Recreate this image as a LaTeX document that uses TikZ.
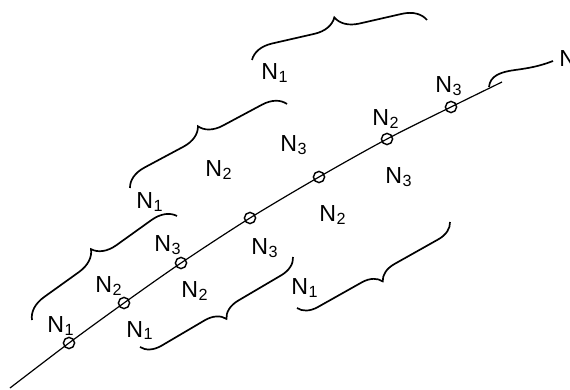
\documentclass[tikz,border=0pt]{standalone}
\usepackage{fontspec}
\setmainfont{Liberation Sans}
\usetikzlibrary{decorations.pathreplacing}
\newcommand\nsub[1]{N\kern0.5pt\raisebox{-0.2ex}{\fontsize{11.5}{13}\selectfont#1}}

\begin{document}
\begin{tikzpicture}[
    x=0.25mm, y=-0.25mm,
    font=\fontsize{16.5}{19}\selectfont,
    ring/.style={circle, draw, line width=1pt, inner sep=0pt,
                 minimum size=2.8mm},
    wire/.style={line width=0.85pt},
    curly/.style={decorate, line width=1.2pt,
                  decoration={brace, amplitude=#1}},
    lead/.style={line width=1.2pt},
    lab/.style={inner sep=0pt, anchor=base west},
  ]
  \useasboundingbox (0,0) rectangle (570,390);
  \coordinate (start) at (10,388);
  \coordinate (stop) at (502,82);
  \node[ring] (r1) at (69,343) {};
  \node[ring] (r2) at (124,303) {};
  \node[ring] (r3) at (181,263) {};
  \node[ring] (r4) at (250,218) {};
  \node[ring] (r5) at (319,177) {};
  \node[ring] (r6) at (387,139) {};
  \node[ring] (r7) at (451,107) {};
  \draw[wire] plot[smooth, tension=0.5] coordinates {(start) (r1.center) (r2.center)
    (r3.center) (r4.center) (r5.center) (r6.center) (r7.center) (stop)};
  \coordinate (b1a) at (252,60);  \coordinate (b1b) at (427,20);
  \coordinate (b2a) at (130,188); \coordinate (b2b) at (287,104);
  \coordinate (b3a) at (32,320);  \coordinate (b3b) at (177,216);
  \coordinate (b4a) at (140,347); \coordinate (b4b) at (293,257);
  \coordinate (b5a) at (297,308); \coordinate (b5b) at (450,222);
  \draw[curly=5.8mm] (b1a) -- (b1b);
  \draw[curly=5.6mm] (b2a) -- (b2b);
  \draw[curly=5.8mm] (b3a) -- (b3b);
  \draw[curly=4.9mm] (b4b) -- (b4a);
  \draw[curly=4.7mm] (b5b) -- (b5a);
  \coordinate (tip) at (489,87);
  \coordinate (tail) at (553,61);
  \draw[lead] (tip) .. controls (490,76) and (500,72) .. (515,70)
    .. controls (530,68) and (540,66) .. (tail);
  \node[lab] (t1) at (261,80) {\nsub{1}};
  \node[lab] (t2) at (205,177) {\nsub{2}};
  \node[lab] (t3) at (280,152) {\nsub{3}};
  \node[lab] (t4) at (136,209) {\nsub{1}};
  \node[lab] (t5) at (372,126) {\nsub{2}};
  \node[lab] (t6) at (435,93) {\nsub{3}};
  \node[lab] (t7) at (385,184) {\nsub{3}};
  \node[lab] (t8) at (319,222) {\nsub{2}};
  \node[lab] (t9) at (251,255) {\nsub{3}};
  \node[lab] (t10) at (154,252) {\nsub{3}};
  \node[lab] (t11) at (95,293) {\nsub{2}};
  \node[lab] (t12) at (181,298) {\nsub{2}};
  \node[lab] (t13) at (47,333) {\nsub{1}};
  \node[lab] (t14) at (126,337) {\nsub{1}};
  \node[lab] (t15) at (291,295) {\nsub{1}};
  \node[lab] (t16) at (559,67) {\nsub{1}};
\end{tikzpicture}
\end{document}
